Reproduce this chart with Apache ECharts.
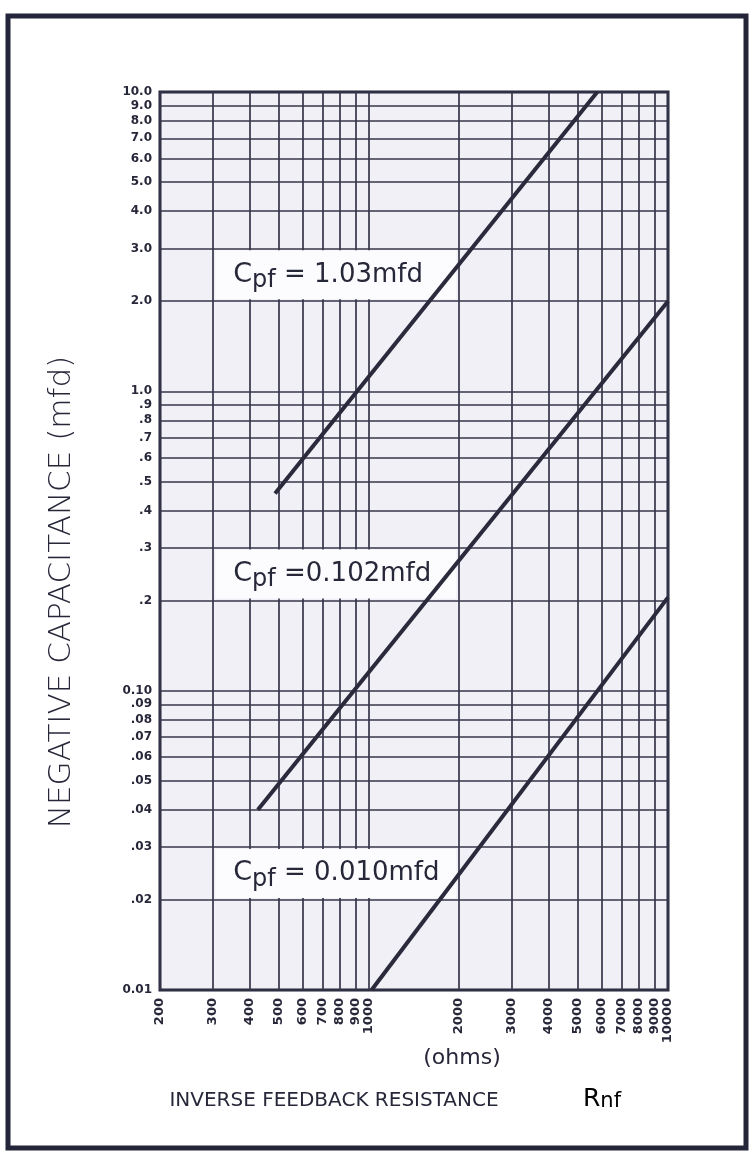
<!DOCTYPE html>
<html>
<head>
<meta charset="utf-8">
<title>Negative capacitance vs inverse feedback resistance</title>
<script src="https://cdn.jsdelivr.net/npm/echarts@6/dist/echarts.min.js"></script>
<style>
    html, body { margin: 0; padding: 0; background: #ffffff; }
    #chart { width: 754px; height: 1157px; }
</style>
</head>
<body>
<div id="chart"></div>
<script>
// ticks of the log grid (ohms / mfd)
const xTickValues = [200, 300, 400, 500, 600, 700, 800, 900, 1000, 2000, 3000, 4000, 5000, 6000, 7000, 8000, 9000, 10000];
const xTickLabels = ['200', '300', '400', '500', '600', '700', '800', '900', '1000', '2000', '3000', '4000', '5000', '6000', '7000', '8000', '9000', '10000'];
const yTickValues = [0.01, 0.02, 0.03, 0.04, 0.05, 0.06, 0.07, 0.08, 0.09, 0.1, 0.2, 0.3, 0.4, 0.5, 0.6, 0.7, 0.8, 0.9, 1, 2, 3, 4, 5, 6, 7, 8, 9, 10];
const yTickLabels = ['0.01', '.02', '.03', '.04', '.05', '.06', '.07', '.08', '.09', '0.10', '.2', '.3', '.4', '.5', '.6', '.7', '.8', '.9', '1.0', '2.0', '3.0', '4.0', '5.0', '6.0', '7.0', '8.0', '9.0', '10.0'];

// curves, [Rnf ohms, capacitance mfd] end points
const cpfNames = ['Cpf = 1.03mfd', 'Cpf =0.102mfd', 'Cpf = 0.010mfd'];
const curve103 = [[485, 0.456], [5800, 10]];
const curve0102 = [[425, 0.04], [10000, 2.0]];
const curve0010 = [[1020, 0.01], [10000, 0.205]];

const FONT = "'DejaVu Sans', 'Noto Sans', sans-serif";
const INK = '#27273a';

function tickFormatter(values, labels) {
    return function (v) {
        for (let i = 0; i < values.length; i++) {
            if (Math.abs(v - values[i]) <= values[i] * 1e-6) return labels[i];
        }
        return '';
    };
}

// "Cpf = ..." -> C with a lowered "pf"
function cpfText(name) {
    return '{c|C}{s|pf}{t|' + name.slice(3) + '}';
}

const cpfRich = {
    c: { fontSize: 27, fontFamily: FONT, color: INK, lineHeight: 34 },
    s: { fontSize: 24, fontFamily: FONT, color: INK, lineHeight: 34, padding: [12, 0, 0, 0] },
    t: { fontSize: 26, fontFamily: FONT, color: INK, lineHeight: 34 }
};

function boxLabel(name) {
    return {
        show: true,
        position: 'insideLeft',
        distance: 18,
        formatter: cpfText(name),
        rich: cpfRich
    };
}

const chart = echarts.init(document.getElementById('chart'));
chart.setOption({
    animation: false,
    backgroundColor: '#ffffff',
    grid: {
        left: 160,
        right: 86,
        top: 92,
        bottom: 167,
        show: true,
        backgroundColor: '#f0f0f6',
        borderColor: '#23233a',
        borderWidth: 3,
        containLabel: false,
        outerBoundsMode: 'none'
    },
    xAxis: {
        type: 'log',
        logBase: 10,
        min: 200,
        max: 10000,
        axisLine: { show: false },
        axisTick: { show: false, customValues: xTickValues },
        splitLine: { show: true, lineStyle: { color: '#36364a', width: 1.7 } },
        axisLabel: {
            customValues: xTickValues,
            showMinLabel: true,
            showMaxLabel: true,
            hideOverlap: false,
            rotate: 90,
            margin: 8,
            fontFamily: FONT,
            fontWeight: 'bold',
            fontSize: 13,
            color: INK,
            formatter: tickFormatter(xTickValues, xTickLabels)
        }
    },
    yAxis: {
        type: 'log',
        logBase: 10,
        min: 0.01,
        max: 10,
        axisLine: { show: false },
        axisTick: { show: false, customValues: yTickValues },
        splitLine: { show: true, lineStyle: { color: '#36364a', width: 1.7 } },
        axisLabel: {
            customValues: yTickValues,
            showMinLabel: true,
            showMaxLabel: true,
            hideOverlap: false,
            margin: 8,
            fontFamily: FONT,
            fontWeight: 'bold',
            fontSize: 12,
            color: INK,
            formatter: tickFormatter(yTickValues, yTickLabels)
        }
    },
    series: [
        {
            name: 'labels',
            type: 'line',
            data: [],
            z: 1,
            silent: true,
            markArea: {
                silent: true,
                itemStyle: { color: '#fcfcfe', opacity: 1, borderWidth: 0 },
                data: [
                    [{ xAxis: 306, yAxis: 2.03, label: boxLabel(cpfNames[0]) }, { xAxis: 1960, yAxis: 2.96 }],
                    [{ xAxis: 306, yAxis: 0.203, label: boxLabel(cpfNames[1]) }, { xAxis: 1960, yAxis: 0.296 }],
                    [{ xAxis: 306, yAxis: 0.0203, label: boxLabel(cpfNames[2]) }, { xAxis: 1960, yAxis: 0.0296 }]
                ]
            }
        },
        {
            name: cpfNames[0],
            type: 'line',
            data: curve103,
            z: 5,
            symbol: 'none',
            lineStyle: { color: '#2a2a3c', width: 4 }
        },
        {
            name: cpfNames[1],
            type: 'line',
            data: curve0102,
            z: 5,
            symbol: 'none',
            lineStyle: { color: '#2a2a3c', width: 4 }
        },
        {
            name: cpfNames[2],
            type: 'line',
            data: curve0010,
            z: 5,
            symbol: 'none',
            lineStyle: { color: '#2a2a3c', width: 4 }
        }
    ],
    graphic: [
        {
            type: 'rect',
            shape: { x: 8, y: 16, width: 738, height: 1132 },
            style: { fill: null, stroke: '#25253a', lineWidth: 5 },
            z: 100
        },
        {
            type: 'text',
            x: 62,
            y: 592,
            rotation: Math.PI / 2,
            style: {
                text: 'NEGATIVE CAPACITANCE (mfd)',
                font: "200 31px 'DejaVu Sans', sans-serif",
                fill: INK,
                align: 'center',
                verticalAlign: 'middle'
            }
        },
        {
            type: 'text',
            x: 462,
            y: 1058,
            style: {
                text: '(ohms)',
                font: "22px 'DejaVu Sans', sans-serif",
                fill: INK,
                align: 'center',
                verticalAlign: 'middle'
            }
        },
        {
            type: 'text',
            x: 334,
            y: 1101,
            style: {
                text: 'INVERSE FEEDBACK RESISTANCE',
                font: "20px 'DejaVu Sans', sans-serif",
                fill: INK,
                align: 'center',
                verticalAlign: 'middle'
            }
        },
        {
            type: 'text',
            x: 583,
            y: 1099,
            style: {
                text: '{r|R}{n|nf}',
                rich: {
                    r: { fontSize: 25, fontFamily: FONT, color: INK, lineHeight: 30 },
                    n: { fontSize: 21, fontFamily: FONT, color: INK, lineHeight: 30, padding: [6, 0, 0, 0] }
                },
                verticalAlign: 'middle'
            }
        }
    ]
});
</script>
</body>
</html>
